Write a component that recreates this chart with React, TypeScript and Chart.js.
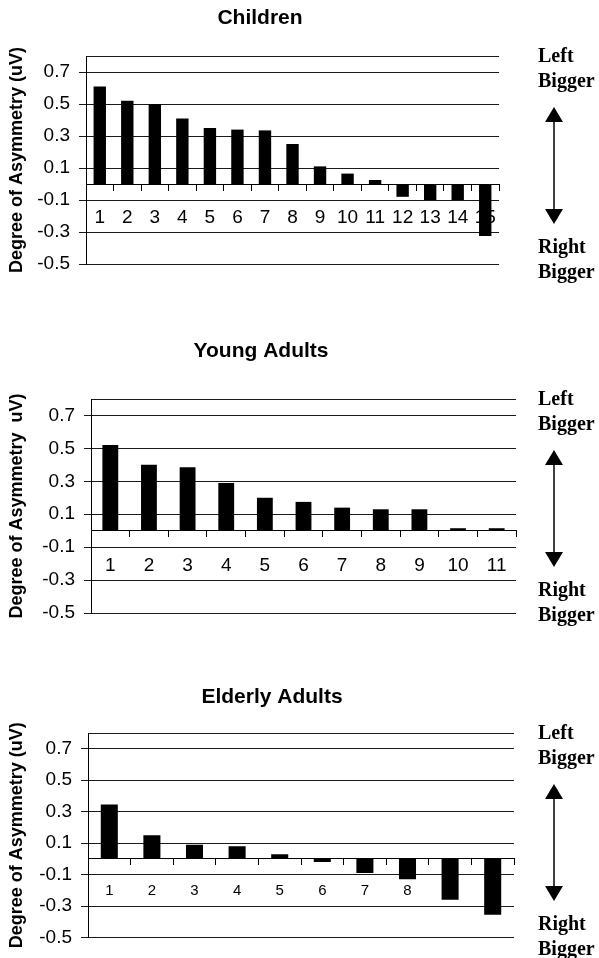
import React, { useEffect, useRef } from 'react';
import { Chart, registerables } from 'chart.js';

Chart.register(...registerables);

// ---------- data ----------
const childrenCategories = ['1', '2', '3', '4', '5', '6', '7', '8', '9', '10', '11', '12', '13', '14', '15'];
const childrenValues = [0.61, 0.52, 0.5, 0.41, 0.35, 0.34, 0.335, 0.25, 0.11, 0.065, 0.025, -0.08, -0.1, -0.1, -0.325];

const youngCategories = ['1', '2', '3', '4', '5', '6', '7', '8', '9', '10', '11'];
const youngValues = [0.52, 0.4, 0.385, 0.29, 0.2, 0.175, 0.14, 0.13, 0.13, 0.015, 0.015];

const elderlyCategories = ['1', '2', '3', '4', '5', '6', '7', '8', '9', '10'];
const elderlyValues = [0.345, 0.15, 0.09, 0.08, 0.03, -0.02, -0.09, -0.13, -0.26, -0.355];

const yTickValues = [-0.5, -0.3, -0.1, 0.1, 0.3, 0.5, 0.7, 0.8];
const yTickLabels = ['-0.5', '-0.3', '-0.1', '0.1', '0.3', '0.5', '0.7', ''];

const panelTitles = ['Children', 'Young Adults', 'Elderly Adults'];
const yAxisTitles = ['Degree of Asymmetry (uV)', 'Degree of Asymmetry  uV)', 'Degree of Asymmetry (uV)'];
const sideTopLabels = ['Left', 'Bigger'];
const sideBottomLabels = ['Right', 'Bigger'];

const SANS = '"Liberation Sans", Arial, Helvetica, sans-serif';
const SERIF = '"Liberation Serif", "Times New Roman", serif';

type PanelSpec = {
  title: string;
  yTitle: string;
  categories: string[];
  values: number[];
  top: number;
  height: number;
  areaTop: number;
  areaBottom: number;
  axisX: number;
  areaRight: number;
  barFrac: number;
  xFont: number;
  xPad: number;
  titleX: number;
  titleY: number;
};

const panels: PanelSpec[] = [
  {
    title: panelTitles[0], yTitle: yAxisTitles[0], categories: childrenCategories, values: childrenValues,
    top: 0, height: 300, areaTop: 56, areaBottom: 264, axisX: 86, areaRight: 499,
    barFrac: 0.45, xFont: 19, xPad: 16, titleX: 260, titleY: 18,
  },
  {
    title: panelTitles[1], yTitle: yAxisTitles[1], categories: youngCategories, values: youngValues,
    top: 320, height: 320, areaTop: 399, areaBottom: 613, axisX: 91, areaRight: 516,
    barFrac: 0.41, xFont: 19, xPad: 18, titleX: 261, titleY: 351,
  },
  {
    title: panelTitles[2], yTitle: yAxisTitles[2], categories: elderlyCategories, values: elderlyValues,
    top: 650, height: 308, areaTop: 733, areaBottom: 946, axisX: 88, areaRight: 514,
    barFrac: 0.4, xFont: 15, xPad: 17, titleX: 272, titleY: 697,
  },
];

function Panel({ spec }: { spec: PanelSpec }) {
  const ref = useRef<HTMLCanvasElement | null>(null);

  useEffect(() => {
    const canvas = ref.current;
    if (!canvas) return;

    const decorPlugin = {
      id: 'decor' + spec.title.replace(/\s/g, ''),
      afterDraw(chart: any) {
        const ctx = chart.ctx as CanvasRenderingContext2D;
        const a = chart.chartArea;
        ctx.save();
        ctx.fillStyle = '#000';
        ctx.strokeStyle = '#000';
        // title
        ctx.font = `bold 21px ${SANS}`;
        ctx.textAlign = 'center';
        ctx.textBaseline = 'middle';
        ctx.fillText(spec.title, spec.titleX, spec.titleY - spec.top);
        // side annotation
        const tx = 538;
        const ax = 554;
        ctx.font = `bold 20px ${SERIF}`;
        ctx.textAlign = 'left';
        ctx.fillText(sideTopLabels[0], tx, a.top + 1);
        ctx.fillText(sideTopLabels[1], tx, a.top + 26);
        ctx.fillText(sideBottomLabels[0], tx, a.top + 192);
        ctx.fillText(sideBottomLabels[1], tx, a.top + 217);
        const yTop = a.top + 51;
        const yBot = a.top + 168;
        ctx.lineWidth = 1.5;
        ctx.beginPath();
        ctx.moveTo(ax, yTop + 10);
        ctx.lineTo(ax, yBot - 10);
        ctx.stroke();
        ctx.beginPath();
        ctx.moveTo(ax, yTop);
        ctx.lineTo(ax - 9, yTop + 15);
        ctx.lineTo(ax + 9, yTop + 15);
        ctx.closePath();
        ctx.fill();
        ctx.beginPath();
        ctx.moveTo(ax, yBot);
        ctx.lineTo(ax - 9, yBot - 15);
        ctx.lineTo(ax + 9, yBot - 15);
        ctx.closePath();
        ctx.fill();
        ctx.restore();
      },
    };

    const chart = new Chart(canvas, {
      type: 'bar',
      data: {
        labels: spec.categories,
        datasets: [
          {
            data: spec.values,
            backgroundColor: '#000',
            borderWidth: 0,
            barPercentage: spec.barFrac,
            categoryPercentage: 1,
          },
        ],
      },
      options: {
        responsive: false,
        maintainAspectRatio: false,
        animation: false,
        devicePixelRatio: 1,
        layout: {
          padding: {
            left: 0,
            top: spec.areaTop - spec.top,
            right: 599 - spec.areaRight,
            bottom: spec.top + spec.height - spec.areaBottom,
          },
        },
        plugins: {
          legend: { display: false },
          title: { display: false },
          tooltip: { enabled: false },
        },
        scales: {
          x: {
            position: { y: 0 } as any,
            offset: true,
            grid: {
              display: true,
              drawOnChartArea: false,
              drawTicks: true,
              tickLength: 6,
              offset: true,
              color: '#000',
              tickColor: '#000',
            },
            border: { display: true, color: '#000', width: 1 },
            ticks: {
              font: { family: SANS, size: spec.xFont },
              color: '#000',
              padding: spec.xPad,
              maxRotation: 0,
              autoSkip: false,
            },
          },
          y: {
            min: -0.5,
            max: 0.8,
            afterBuildTicks: (s: any) => {
              s.ticks = yTickValues.map((v) => ({ value: v }));
            },
            afterFit: (s: any) => {
              s.width = spec.axisX;
            },
            ticks: {
              callback: (v: any) => {
                const i = yTickValues.indexOf(Number(v));
                return i >= 0 ? yTickLabels[i] : '';
              },
              font: { family: SANS, size: 19 },
              color: '#000',
              padding: 9,
            },
            grid: {
              color: '#1a1a1a',
              lineWidth: 1,
              tickLength: 7,
              tickColor: (c: any) => (c.tick && c.tick.value === 0.8 ? 'rgba(0,0,0,0)' : '#1a1a1a'),
            },
            border: { display: true, color: '#000', width: 1 },
            title: {
              display: true,
              text: spec.yTitle,
              font: { family: SANS, size: 18, weight: 'bold' },
              color: '#000',
              padding: { top: 6, bottom: 0 },
            },
          },
        },
      },
      plugins: [decorPlugin],
    });

    return () => {
      chart.destroy();
    };
  }, [spec]);

  return (
    <canvas
      ref={ref}
      width={599}
      height={spec.height}
      style={{ position: 'absolute', left: 0, top: spec.top, width: 599, height: spec.height, display: 'block' }}
    />
  );
}

export default function App() {
  return (
    <div style={{ position: 'absolute', left: 0, top: 0, width: 599, height: 958, background: '#fff' }}>
      {panels.map((p) => (
        <Panel key={p.title} spec={p} />
      ))}
    </div>
  );
}
